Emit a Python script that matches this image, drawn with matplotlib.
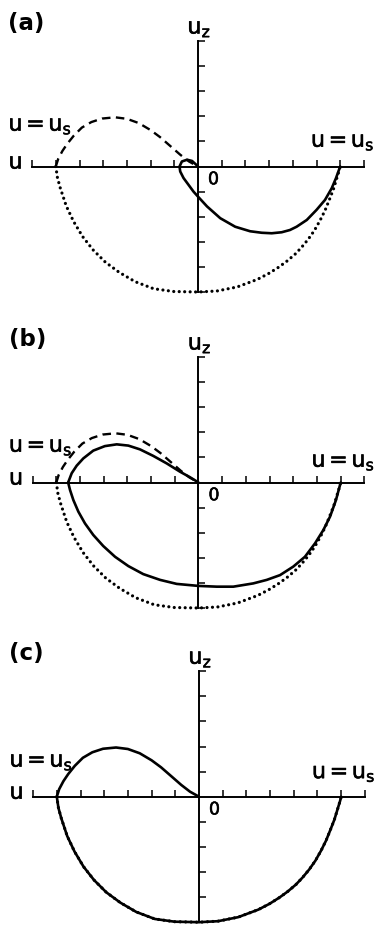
import numpy as np
import matplotlib.pyplot as plt
import matplotlib.patheffects as pe

# hodograph curves in (u, u_z) units; axes run u = -7..7, u_z = -5..5
# lower branch of the u = u_s locus (dotted in a, b; solid in c)
lower_u = [-6.0, -5.93, -5.81, -5.56, -5.25, -4.87, -4.43, -3.91, -3.32, -2.65,
           -1.87, -1.03, 0.0, 0.8, 1.65, 2.5, 2.97, 3.39, 3.74, 4.09, 4.37,
           4.65, 4.91, 5.15, 5.36, 5.54, 5.71, 5.83, 5.95, 6.0]
lower_uz = [0.0, -0.45, -0.86, -1.57, -2.19, -2.79, -3.32, -3.81, -4.22, -4.59,
            -4.87, -4.98, -5.0, -4.96, -4.8, -4.5, -4.27, -4.02, -3.78, -3.5,
            -3.22, -2.9, -2.55, -2.15, -1.75, -1.33, -0.92, -0.55, -0.18, 0.0]

# upper branch (dashed in a, b; solid in c)
upper_u = [-6.0, -5.9, -5.72, -5.52, -5.24, -4.9, -4.5, -4.05, -3.5, -3.0,
           -2.5, -2.0, -1.6, -1.15, -0.75, -0.38, 0.0]
upper_uz = [0.0, 0.3, 0.62, 0.9, 1.23, 1.55, 1.77, 1.91, 1.96, 1.9,
            1.73, 1.45, 1.17, 0.8, 0.47, 0.2, 0.0]

# (a) trajectory with the small loop near the origin
traj_a_u = [0.0, -0.11, -0.25, -0.46, -0.68, -0.78, -0.75, -0.61, -0.4, -0.19,
            0.0, 0.38, 0.94, 1.57, 2.2, 2.69, 3.11, 3.53, 3.88, 4.16, 4.59,
            5.0, 5.36, 5.64, 5.82, 6.0]
traj_a_uz = [0.0, 0.1, 0.22, 0.27, 0.2, 0.0, -0.2, -0.46, -0.73, -1.0,
             -1.2, -1.59, -2.06, -2.4, -2.58, -2.64, -2.66, -2.62, -2.53, -2.4,
             -2.13, -1.73, -1.33, -0.87, -0.47, 0.0]

# (b) trajectory: upper arc then lower arc
traj_b_up_u = [0.0, -0.36, -0.78, -1.34, -1.91, -2.47, -2.96, -3.45, -3.95,
               -4.44, -4.86, -5.14, -5.35, -5.5]
traj_b_up_uz = [0.0, 0.21, 0.43, 0.76, 1.06, 1.32, 1.47, 1.52, 1.45,
                1.27, 0.96, 0.67, 0.37, 0.0]
traj_b_lo_u = [-5.5, -5.42, -5.28, -5.07, -4.79, -4.44, -4.02, -3.52, -2.96,
               -2.33, -1.62, -0.92, 0.0, 0.77, 1.47, 2.31, 2.88, 3.44, 4.0,
               4.49, 4.92, 5.27, 5.55, 5.8, 6.0]
traj_b_lo_uz = [0.0, -0.3, -0.7, -1.16, -1.63, -2.09, -2.53, -2.96, -3.33,
                -3.65, -3.88, -4.04, -4.12, -4.15, -4.15, -4.02, -3.88, -3.69,
                -3.35, -2.96, -2.42, -1.89, -1.36, -0.7, 0.0]

panel_labels = ["(a)", "(b)", "(c)"]
x_ticks = [t for t in range(-7, 8) if t != 0]
y_ticks = [t for t in range(-5, 6) if t != 0]
# heights of the two "u = u_s" labels in each panel
left_label_y = [1.43, 1.23, 1.2]
right_label_y = [0.79, 0.63, 0.74]
us_text = r"u$\,$=$\,$u$_{s}$"

W, H = 375, 926
XU, YU = 23.7, 25.1          # pixels per unit
origins = [(198.0, 166.5), (198.5, 482.5), (199.0, 796.7)]

plt.rcParams["font.family"] = "DejaVu Sans"
plt.rcParams["mathtext.default"] = "regular"

fig = plt.figure(figsize=(W / 100, H / 100), dpi=100)

dotted = dict(color="black", lw=2.3, linestyle=(0, (0.01, 1.7)),
              dash_capstyle="round", clip_on=False)
dashed = dict(color="black", lw=1.7, linestyle=(0, (3.6, 2.3)), clip_on=False)
solid = dict(color="black", lw=1.9, solid_capstyle="round", clip_on=False)
heavy = [pe.withStroke(linewidth=0.4, foreground="black")]

axes = []
for ox, oy in origins:
    left = ox - 7 * XU
    top = oy - 5 * YU
    ax = fig.add_axes([left / W, 1 - (top + 10 * YU) / H, 14 * XU / W, 10 * YU / H])
    ax.set_xlim(-7, 7)
    ax.set_ylim(-5, 5)
    for side in ["top", "right"]:
        ax.spines[side].set_visible(False)
    ax.spines["left"].set_position(("data", 0))
    ax.spines["bottom"].set_position(("data", 0))
    ax.spines["left"].set_linewidth(1.4)
    ax.spines["bottom"].set_linewidth(1.4)
    ax.set_xticks(x_ticks)
    ax.set_yticks(y_ticks)
    ax.tick_params(direction="in", length=5.0, width=1.1,
                   labelbottom=False, labelleft=False)
    ax.patch.set_visible(False)
    axes.append(ax)

ax_a, ax_b, ax_c = axes

# (a)
ax_a.plot(lower_u, lower_uz, **dotted)
ax_a.plot(upper_u, upper_uz, **dashed)
ax_a.plot(traj_a_u, traj_a_uz, **solid)

# (b)
ax_b.plot(lower_u, lower_uz, **dotted)
ax_b.plot(upper_u, upper_uz, **dashed)
ax_b.plot(traj_b_up_u, traj_b_up_uz, **solid)
ax_b.plot(traj_b_lo_u, traj_b_lo_uz, **solid)

# (c) trajectory runs along the locus itself
ax_c.plot(lower_u, lower_uz, **dotted)
ax_c.plot(lower_u, lower_uz, **solid)
ax_c.plot(upper_u, upper_uz, **solid)

for ax, lab, yl, yr in zip(axes, panel_labels, left_label_y, right_label_y):
    ax.text(-8.0, 5.7, lab, fontsize=16.5, fontweight="bold",
            ha="left", va="center", clip_on=False)
    ax.text(-0.45, 5.3, "u$_{z}$", fontsize=16, ha="left", va="baseline",
            clip_on=False, path_effects=heavy)
    ax.text(-8.0, yl, us_text, fontsize=16, ha="left", va="baseline",
            clip_on=False, path_effects=heavy)
    ax.text(7.45, yr, us_text, fontsize=16, ha="right", va="baseline",
            clip_on=False, path_effects=heavy)
    ax.text(-7.4, -0.08, "u", fontsize=16, ha="right", va="baseline",
            clip_on=False, path_effects=heavy)
    ax.text(0.42, -0.15, "0", fontsize=12.5, ha="left", va="top",
            clip_on=False, path_effects=heavy)

fig.savefig("out.png", dpi=100)
plt.close(fig)
